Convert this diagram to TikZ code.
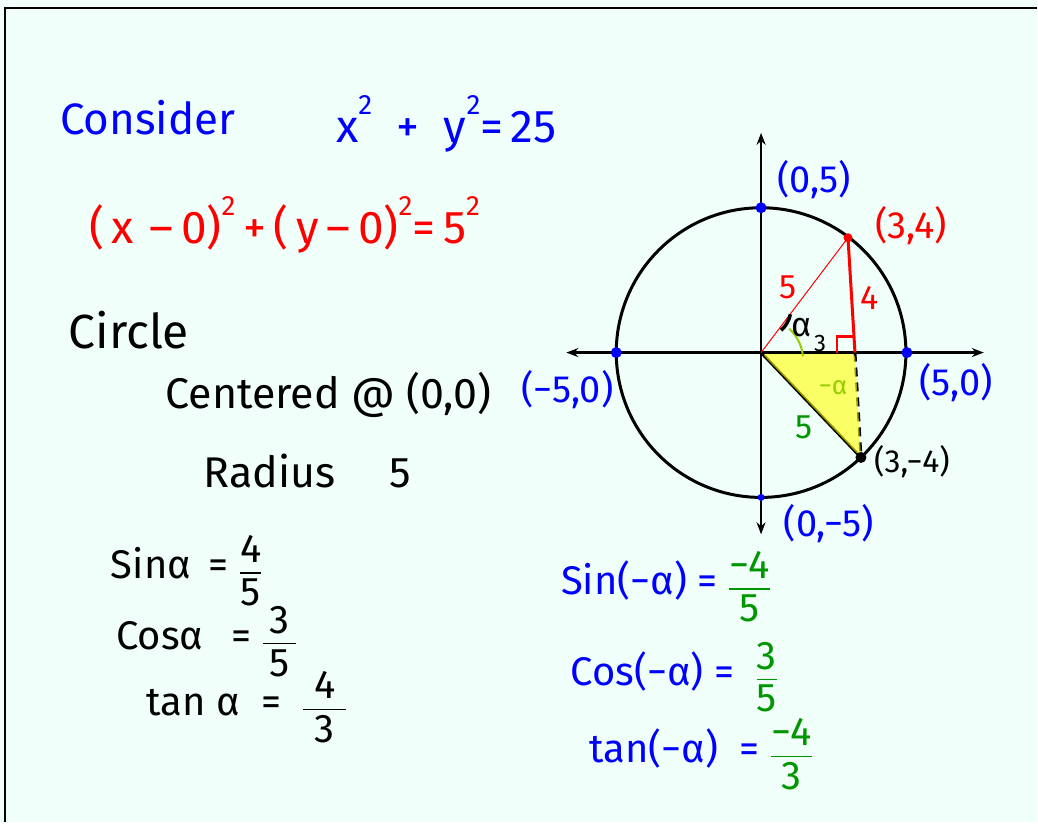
\documentclass[tikz,border=0pt]{standalone}
\usepackage{tikz}
\usepackage{xcolor}
\usepackage{amsmath}
\usepackage{fontspec}
\setmainfont{Fira Sans}
\usetikzlibrary{arrows.meta}
\definecolor{bgmint}{RGB}{240,255,250}
\definecolor{penblue}{RGB}{0,0,255}
\definecolor{penred}{RGB}{255,0,0}
\definecolor{pengreen}{RGB}{0,150,0}
\definecolor{penlime}{RGB}{150,205,0}
\definecolor{hilite}{RGB}{255,255,0}
\newcommand{\hfrac}[2]{$\genfrac{}{}{1.6pt}{0}{\text{#1}}{\text{#2}}$}
\newcommand{\sq}{\raisebox{0.6em}{\fontsize{28}{30}\selectfont 2}}
\newcommand{\bigtxt}{\fontsize{46}{50}\selectfont}
\newcommand{\midtxt}{\fontsize{40}{44}\selectfont}
\newcommand{\lbltxt}{\fontsize{38}{42}\selectfont}
\newcommand{\smalltxt}{\fontsize{34}{38}\selectfont}

\begin{document}
\begin{tikzpicture}[x=1pt, y=-1pt,
    axis/.style={line width=2.5pt, {Stealth[length=12pt]}-{Stealth[length=12pt]}},
    ptdot/.style={circle, fill, inner sep=0pt, minimum size=11pt},
    lbl/.style={inner sep=0pt}]
    % Page and frame
    \fill[bgmint] (0,0) rectangle (1038,823);
    \draw[line width=2.5pt] (5,823) -- (5,8) -- (1038,8);

    % Left notes
    \node[lbl, penblue, font=\fontsize{44}{48}\selectfont] (consider) at (148,118) {Consider};
    \node[lbl, penblue, font=\bigtxt] (eqone) at (447,124) {x\sq\ \ +\ \ y\sq=\,25};
    \node[lbl, penred, font=\bigtxt] (eqtwo) at (285,225) {(\,x\,\,–\,0)\sq\,+\,(\,y\,–\,0)\sq=\,5\sq};
    \node[lbl, font=\fontsize{48}{52}\selectfont] (circ) at (129,330) {Circle};
    \node[lbl, font=\fontsize{43}{47}\selectfont] (centr) at (329,395) {Centered @ (0,0)};
    \node[lbl, font=\fontsize{43}{47}\selectfont] (rad) at (308,472) {Radius\quad\ 5};
    \node[lbl, font=\midtxt] (sina) at (187,571) {Sinα\, = \hfrac{4}{5}};
    \node[lbl, font=\midtxt] (cosa) at (207,642) {Cosα\,\ \ = \hfrac{\,3\,}{5}};
    \node[lbl, font=\midtxt] (tana) at (247,708) {tan α\ \ = \ \hfrac{\ 4\ }{3}};

    % Right notes
    \node[lbl, penblue, font=\midtxt] (sinm) at (667,587) {Sin(−α) = \textcolor{pengreen}{\hfrac{−4}{5}}};
    \node[lbl, penblue, font=\midtxt] (cosm) at (675,678) {Cos(−α) = \ \textcolor{pengreen}{\hfrac{3}{5}}};
    \node[lbl, penblue, font=\midtxt] (tanm) at (702,755) {tan(−α)\ \ = \textcolor{pengreen}{\hfrac{−4}{3}}};

    % Circle points
    \coordinate (O) at (762,353);
    \coordinate (A) at (849,238);
    \coordinate (F) at (856,353);
    \coordinate (B) at (862,458);
    \coordinate (xl) at (567,353);
    \coordinate (xr) at (985,353);
    \coordinate (yt) at (762,133);
    \coordinate (yb) at (762,535);

    % Highlighted triangle
    \draw[line width=3pt] (O) -- (B);
    \draw[line width=3pt, dash pattern=on 9pt off 6pt] (F) -- (B);
    \fill[hilite, opacity=0.6, rounded corners=6pt] (O) -- (F) -- (B) -- cycle;

    % Axes and circle
    \draw[axis] (xl) -- (xr);
    \draw[axis] (yb) -- (yt);
    \draw[line width=3pt] (O) circle[radius=145pt];

    % Red triangle
    \draw[penred, line width=1pt] (O) -- (A);
    \draw[penred, line width=3pt] (A) -- (F);
    \draw[penred, line width=2.5pt] (838,353) -- (838,337) -- (856,337);
    \node[ptdot, penred, minimum size=9pt] (dA) at (A) {};
    \node[ptdot, black] (dB) at (B) {};

    % Angle marks
    \draw[line width=3.5pt] (O) ++(-48:30) arc[start angle=-48, end angle=-12, radius=30pt];
    \draw[penlime, line width=2pt] (O) ++(5:42) arc[start angle=5, end angle=48, radius=42pt];

    % Intercepts
    \node[ptdot, penblue] (d05) at (762,208) {};
    \node[ptdot, penblue] (dm50) at (617,353) {};
    \node[ptdot, penblue] (d50) at (908,353) {};
    \node[ptdot, penblue, minimum size=7pt] (d0m5) at (762,498) {};

    % Labels
    \node[lbl, penblue, font=\lbltxt] (l05) at (815,180) {(0,5)};
    \node[lbl, penred, font=\lbltxt] (l34) at (912,226) {(3,4)};
    \node[lbl, penblue, font=\lbltxt] (l50) at (957,383) {(5,0)};
    \node[lbl, penblue, font=\lbltxt] (lm50) at (568,390) {(−5,0)};
    \node[lbl, font=\fontsize{32}{36}\selectfont] (l3m4) at (913,462) {(3,−4)};
    \node[lbl, penblue, font=\lbltxt] (l0m5) at (830,524) {(0,−5)};
    \node[lbl, penred, font=\smalltxt] (hyp) at (789,288) {5};
    \node[lbl, penred, font=\smalltxt] (opp) at (871,298) {4};
    \node[lbl, font=\smalltxt] (alf) at (803,328) {α};
    \node[lbl, font=\fontsize{24}{26}\selectfont] (adj) at (821,344) {3};
    \node[lbl, penlime, font=\fontsize{26}{28}\selectfont] (malf) at (834,388) {−α};
    \node[lbl, pengreen, font=\smalltxt] (hypg) at (805,428) {5};
\end{tikzpicture}
\end{document}
